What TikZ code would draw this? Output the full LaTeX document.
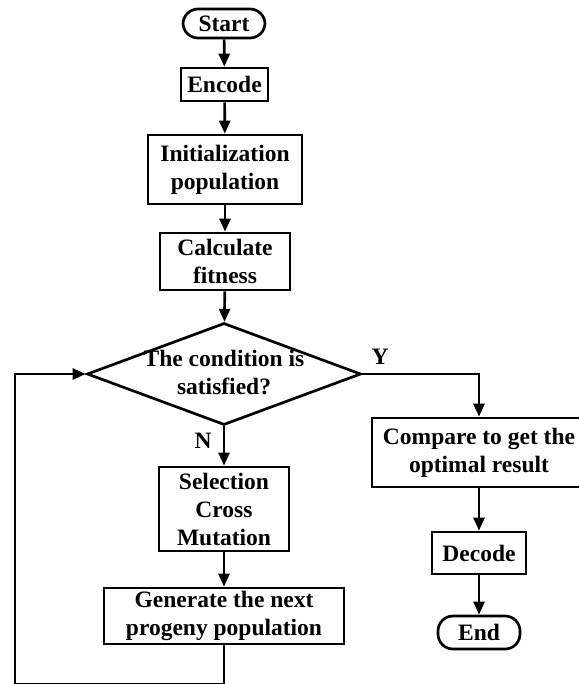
\documentclass[tikz,border=0pt]{standalone}
\usepackage{fontspec}
\setmainfont{Liberation Serif}
\usetikzlibrary{arrows.meta,shapes.geometric}
\tikzset{
  box/.style={draw, line width=2.7pt, inner sep=0pt, align=center},
  term/.style={box, rounded corners=15pt},
  lbl/.style={inner sep=0pt}
}
\begin{document}
\begin{tikzpicture}[x=1pt, y=-1pt, line width=2.7pt, >={Triangle[length=13pt,width=11pt]},
  font=\fontsize{23.5}{28}\selectfont\bfseries]
            \useasboundingbox (0,0) rectangle (578,684);
            \node [term, minimum width=82pt, minimum height=29pt] (start) at(224,23.5) {Start};
            \node [box, minimum width=87pt, minimum height=33pt] (encode) at(224.5,84.5) {Encode};
            \node [box, minimum width=154pt, minimum height=69pt] (init) at(225,169.5) {Initialization\\population};
            \node [box, minimum width=130pt, minimum height=57pt] (calc) at(225,261.5) {Calculate\\fitness};
            \node [draw, diamond, inner sep=0pt, minimum width=274pt, minimum height=102pt] (cond) at(224,374) {};
            \node [lbl, align=center] (condtext) at(224,373) {The condition is\\satisfied?};
            \node [box, minimum width=214pt, minimum height=69pt] (cmp) at(479,452.5) {Compare to get the\\optimal result};
            \node [box, minimum width=94pt, minimum height=42pt] (decode) at(479,553) {Decode};
            \node [term, minimum width=82pt, minimum height=33pt] (end) at(479,632.5) {End};
            \node [box, minimum width=130pt, minimum height=84pt] (sel) at(224,509) {Selection\\Cross\\Mutation};
            \node [box, minimum width=240pt, minimum height=56pt] (gen) at(224,616) {Generate the next\\progeny population};
            \node [lbl] (yes) at(380,357) {Y};
            \node [lbl] (no) at(203,441) {N};
            \coordinate (back) at(15,684);
            \draw [->] (start)--(encode);
            \draw [->] (encode)--(init);
            \draw [->] (init)--(calc);
            \draw [->] (calc)--(cond);
            \draw [->] (cond.east) -| (cmp.north);
            \draw [->] (cond.south)--(sel);
            \draw [->] (sel)--(gen);
            \draw [->] (cmp)--(decode);
            \draw [->] (decode)--(end);
            \draw [->] (gen.south) |- (back) |- (cond.west);
        \end{tikzpicture}
\end{document}
